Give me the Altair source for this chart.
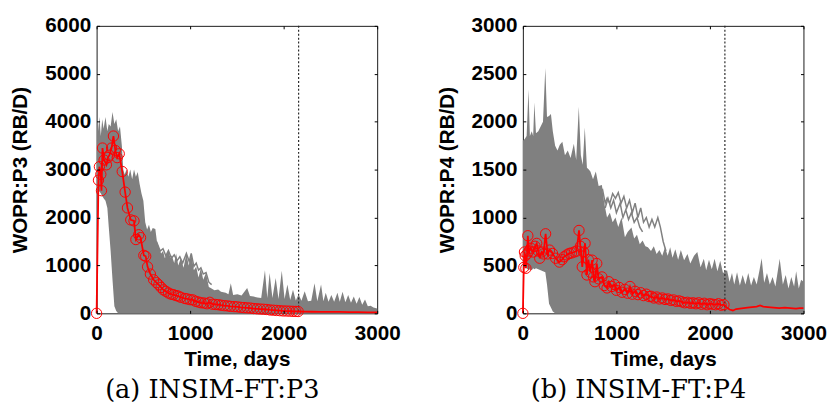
import altair as alt
import pandas as pd

# ---------------- shared ----------------
X_TICKS = [0, 1000, 2000, 3000]
HIST_END = 2160
GRAY = "#808080"
RED = "#ff0000"

# ---------------- panel (a) P3 ----------------
A_Y_TICKS = [0, 1000, 2000, 3000, 4000, 5000, 6000]
# envelope of the ensemble (gray band)
a_env_t = [0, 5, 15, 30, 45, 60, 75, 95, 115, 130, 150, 170, 190, 210, 230, 250, 270, 285, 300, 320,
           340, 360, 380, 400, 420, 440, 460, 480, 500, 520, 540, 560, 580, 600, 628, 645, 665, 690, 710, 730,
           768, 790, 803, 830, 850, 873, 900, 930, 960, 985, 1012, 1040, 1065, 1090, 1115, 1140, 1170, 1200, 1220, 1260,
           1300, 1330, 1380, 1410, 1435, 1460, 1505, 1550, 1580, 1610, 1640, 1680, 1720, 1760, 1800, 1825, 1850, 1880, 1915, 1945,
           1980, 2010, 2040, 2070, 2100, 2130, 2160, 2190, 2225, 2260, 2295, 2330, 2360, 2400, 2425, 2450, 2480, 2510, 2540, 2575,
           2600, 2630, 2660, 2690, 2720, 2750, 2780, 2810, 2840, 2870, 2900, 2930, 2960, 3000]
a_env_hi = [0, 4000, 3800, 4100, 3700, 4050, 3850, 4100, 3800, 3950, 3900, 4200, 3950, 4050, 3800, 3900, 3500, 3000, 2900, 3000,
            2850, 3000, 2800, 3000, 2850, 2950, 2700, 2500, 2350, 1900, 1750, 1850, 1700, 1780, 1760, 1500, 1380, 1250, 1300, 1150,
            1310, 1150, 1210, 1050, 1250, 1000, 1150, 950, 1250, 1000, 1250, 900, 970, 750, 940, 700, 840, 550, 530, 480,
            500, 450, 430, 400, 630, 380, 400, 370, 450, 530, 360, 350, 330, 320, 900, 320, 840, 320, 740, 300,
            890, 300, 600, 280, 490, 270, 400, 260, 460, 250, 260, 630, 250, 600, 250, 430, 240, 380, 240, 430,
            240, 450, 230, 380, 220, 350, 200, 340, 180, 290, 150, 160, 120, 100]
a_env_lo = [0, 2500, 2500, 2550, 2500, 2450, 2400, 2350, 2200, 1800, 1300, 700, 150, 50, 0, 0, 0, 0, 0, 0,
            0, 0, 0, 0, 0, 0, 0, 0, 0, 0, 0, 0, 0, 0, 0, 0, 0, 0, 0, 0,
            0, 0, 0, 0, 0, 0, 0, 0, 0, 0, 0, 0, 0, 0, 0, 0, 0, 0, 0, 0,
            0, 0, 0, 0, 0, 0, 0, 0, 0, 0, 0, 0, 0, 0, 0, 0, 0, 0, 0, 0,
            0, 0, 0, 0, 0, 0, 0, 0, 0, 0, 0, 0, 0, 0, 0, 0, 0, 0, 0, 0,
            0, 0, 0, 0, 0, 0, 0, 0, 0, 0, 0, 0, 0, 0]
# a few stand-out ensemble members
a_out1_t = [640, 680, 710, 740, 768, 800, 830, 860, 890, 920, 960, 990, 1012, 1040, 1065, 1090, 1115, 1140, 1170, 1200, 1230]
a_out1_v = [1500, 1300, 1350, 1200, 1310, 1150, 1220, 1100, 1180, 1050, 1250, 1080, 1250, 980, 1050, 900, 950, 820, 850, 650, 600]
# observed history (circles) and continuation
a_obs_t = [0, 20, 30, 45, 52, 63, 80, 105, 120, 137, 160, 180, 200, 220, 242, 274, 305, 330, 365, 400,
           420, 450, 470, 505, 525, 545, 575, 610, 640, 665, 690, 715, 740, 768, 795, 821, 850, 873, 900, 944,
           970, 1000, 1030, 1060, 1090, 1118, 1150, 1180, 1210, 1240, 1270, 1300, 1330, 1365, 1400, 1430, 1470, 1505, 1540, 1575,
           1610, 1645, 1680, 1715, 1750, 1786, 1820, 1855, 1891, 1925, 1960, 1995, 2030, 2065, 2100, 2130, 2155]
a_obs_v = [0, 2780, 3060, 2900, 2560, 3450, 3200, 3100, 3250, 3300, 3450, 3700, 3400, 3250, 3330, 2960, 2530, 2200, 1950, 1930,
           1540, 1640, 1580, 1210, 1190, 970, 820, 700, 640, 595, 540, 490, 460, 425, 400, 390, 370, 360, 335, 310,
           300, 285, 280, 250, 235, 220, 215, 200, 230, 190, 185, 180, 170, 160, 155, 145, 140, 135, 125, 120,
           115, 110, 100, 95, 90, 85, 80, 70, 65, 60, 55, 50, 48, 45, 42, 40, 38]
a_pred_t = [2200, 2300, 2400, 2500, 2600, 2700, 2800, 2900, 3000]
a_pred_v = [35, 33, 32, 30, 28, 26, 25, 22, 20]

# ---------------- panel (b) P4 ----------------
B_Y_TICKS = [0, 500, 1000, 1500, 2000, 2500, 3000]
b_env_t = [0, 20, 40, 60, 75, 95, 110, 123, 140, 165, 190, 215, 240, 258, 280, 300, 320, 345, 370, 395,
           422, 450, 480, 510, 545, 570, 598, 620, 640, 662, 685, 705, 722, 750, 780, 810, 845, 870, 900, 930,
           960, 990, 1020, 1055, 1091, 1120, 1161, 1190, 1220, 1250, 1280, 1310, 1337, 1370, 1400, 1430, 1460, 1490, 1520, 1548,
           1575, 1600, 1630, 1660, 1689, 1724, 1760, 1790, 1830, 1865, 1900, 1935, 1960, 1990, 2020, 2050, 2080, 2110, 2140, 2183,
           2210, 2236, 2260, 2290, 2320, 2350, 2380, 2410, 2440, 2470, 2500, 2530, 2553, 2580, 2610, 2640, 2670, 2700, 2746, 2780,
           2810, 2840, 2870, 2900, 2922, 2950, 2975, 3000]
b_env_hi = [1800, 1820, 1850, 2336, 1850, 1900, 1850, 2200, 1880, 1900, 1950, 2000, 2560, 2050, 2060, 2080, 1900, 1750, 1700, 1760,
            1790, 1650, 1700, 1620, 1770, 1600, 2155, 1650, 1550, 1940, 1520, 1500, 1480, 1400, 1480, 1330, 1340, 1150, 1000, 1050,
            950, 1000, 900, 1000, 795, 850, 897, 780, 820, 720, 760, 700, 690, 650, 700, 620, 660, 600, 690, 600,
            690, 580, 670, 560, 660, 555, 620, 520, 600, 640, 480, 570, 450, 560, 460, 570, 440, 550, 420, 450,
            330, 420, 300, 430, 290, 400, 300, 420, 290, 380, 300, 450, 575, 320, 420, 300, 380, 280, 570, 300,
            400, 260, 380, 280, 440, 260, 350, 330]
b_env_lo = [450, 480, 470, 450, 460, 450, 470, 460, 470, 460, 450, 440, 430, 300, 100, 60, 20, 0, 0, 0,
            0, 0, 0, 0, 0, 0, 0, 0, 0, 0, 0, 0, 0, 0, 0, 0, 0, 0, 0, 0,
            0, 0, 0, 0, 0, 0, 0, 0, 0, 0, 0, 0, 0, 0, 0, 0, 0, 0, 0, 0,
            0, 0, 0, 0, 0, 0, 0, 0, 0, 0, 0, 0, 0, 0, 0, 0, 0, 0, 0, 0,
            0, 0, 0, 0, 0, 0, 0, 0, 0, 0, 0, 0, 0, 0, 0, 0, 0, 0, 0, 0,
            0, 0, 0, 0, 0, 0, 0, 0]
b_out1_t = [850, 880, 900, 930, 960, 990, 1020, 1050, 1080, 1110, 1140, 1170, 1200, 1230, 1260, 1290, 1320, 1350, 1380, 1410,
            1443, 1470, 1500, 1530]
b_out1_v = [1300, 1150, 1200, 1150, 1250, 1200, 1260, 1150, 1220, 1100, 1180, 1050, 1150, 1000, 1100, 950, 1000, 900, 980, 900,
            1000, 900, 750, 650]
b_out2_t = [880, 910, 940, 970, 1000, 1040, 1070, 1100, 1130, 1160, 1190, 1220, 1250, 1280]
b_out2_v = [1100, 1200, 1100, 1180, 1050, 1150, 1000, 1080, 980, 1050, 950, 1000, 900, 850]
b_obs_t = [0, 10, 17, 25, 32, 45, 53, 65, 85, 110, 130, 148, 165, 180, 200, 220, 243, 265, 285, 317,
           350, 390, 420, 440, 470, 495, 520, 550, 575, 600, 615, 635, 650, 665, 685, 700, 720, 740, 755, 770,
           790, 810, 845, 870, 900, 920, 950, 980, 1000, 1030, 1060, 1090, 1120, 1145, 1170, 1200, 1230, 1260, 1290, 1320,
           1350, 1372, 1400, 1430, 1460, 1490, 1520, 1550, 1580, 1610, 1640, 1670, 1700, 1730, 1760, 1790, 1820, 1850, 1880, 1910,
           1940, 1970, 2000, 2030, 2060, 2090, 2120, 2150]
b_obs_v = [0, 480, 640, 600, 470, 620, 810, 650, 680, 640, 700, 730, 650, 575, 640, 620, 830, 620, 660, 625,
           575, 535, 560, 590, 610, 625, 630, 640, 650, 865, 700, 485, 640, 730, 400, 560, 430, 555, 380, 330,
           520, 360, 380, 290, 265, 330, 280, 300, 240, 270, 220, 250, 210, 280, 200, 230, 195, 215, 185, 200,
           175, 178, 160, 170, 150, 160, 145, 150, 135, 140, 125, 130, 120, 110, 115, 105, 110, 100, 110, 95,
           105, 90, 100, 95, 90, 100, 85, 90]
b_pred_t = [2180, 2210, 2246, 2280, 2320, 2360, 2400, 2450, 2500, 2536, 2570, 2620, 2680, 2740, 2800, 2860, 2920, 2960, 3000]
b_pred_v = [60, 40, 30, 45, 50, 55, 60, 65, 70, 82, 70, 65, 60, 55, 60, 55, 50, 55, 55]

SANS = "Liberation Sans"
SERIF = "DejaVu Serif"


def panel(env_t, env_hi, env_lo, outliers, obs_t, obs_v, pred_t, pred_v,
          ymax, yticks, ytitle, caption):
    xs = alt.Scale(domain=[0, 3000], nice=False, zero=False)
    ys = alt.Scale(domain=[0, ymax], nice=False)

    env = pd.DataFrame({"t": env_t, "hi": env_hi, "lo": env_lo})
    rows = []
    for k, (ot, ov) in enumerate(outliers):
        for t, v in zip(ot, ov):
            rows.append({"id": k, "t": t, "v": v})
    out_df = pd.DataFrame(rows)
    red_df = pd.DataFrame({"t": list(obs_t) + list(pred_t), "v": list(obs_v) + list(pred_v)})
    obs_df = pd.DataFrame({"t": obs_t, "v": obs_v})
    rule_df = pd.DataFrame({"t": [HIST_END]})

    lab = dict(labelFont=SANS, labelFontSize=21, labelFontWeight="bold", labelColor="#000000",
               titleFont=SANS, titleFontSize=21, titleFontWeight="bold", titleColor="#000000")
    main_x = alt.Axis(values=X_TICKS, format="d", ticks=False, domain=False, grid=False,
                      labelPadding=10, titlePadding=5, labelFlush=False, **lab)
    main_y = alt.Axis(values=yticks, format="d", ticks=False, domain=False, grid=False,
                      labelPadding=6, titlePadding=14, labelFlush=False, **lab)

    def tick_axis(orient, vals):
        return alt.Axis(orient=orient, values=vals, labels=False, domain=False, grid=False,
                        ticks=True, tickSize=3, offset=-3, tickColor="#000000", zindex=1)

    area = alt.Chart(env).mark_area(color=GRAY, opacity=1, interpolate="linear").encode(
        x=alt.X("t:Q", scale=xs, axis=main_x, title="Time, days"),
        y=alt.Y("hi:Q", scale=ys, axis=main_y, title=ytitle),
        y2="lo:Q",
    )
    outl = alt.Chart(out_df).mark_line(color=GRAY, strokeWidth=1.5).encode(
        x=alt.X("t:Q", scale=xs, axis=tick_axis("top", X_TICKS), title=None),
        y=alt.Y("v:Q", scale=ys, axis=tick_axis("right", yticks), title=None),
        detail="id:N",
    )
    rule = alt.Chart(rule_df).mark_rule(color="#2a2a2a", strokeDash=[2, 2], strokeWidth=1.2).encode(
        x=alt.X("t:Q", scale=xs, axis=None),
    )
    red_line = alt.Chart(red_df).mark_line(color=RED, strokeWidth=1.8).encode(
        x=alt.X("t:Q", scale=xs, axis=tick_axis("bottom", X_TICKS), title=None),
        y=alt.Y("v:Q", scale=ys, axis=tick_axis("left", yticks), title=None),
    )
    red_pts = alt.Chart(obs_df).mark_point(shape="circle", filled=False, color=RED, size=110,
                                           strokeWidth=1, opacity=1).encode(
        x=alt.X("t:Q", scale=xs, axis=None),
        y=alt.Y("v:Q", scale=ys, axis=None),
    )
    return alt.layer(area, outl, rule, red_line, red_pts).resolve_axis(
        x="independent", y="independent"
    ).properties(
        width=285, height=292,
        title=alt.TitleParams(caption, orient="bottom", anchor="middle", font=SERIF,
                              fontSize=26, fontWeight="normal", color="#000000", offset=8, dx=-25),
    )


pa = panel(a_env_t, a_env_hi, a_env_lo, [(a_out1_t, a_out1_v)], a_obs_t, a_obs_v, a_pred_t, a_pred_v,
           6000, A_Y_TICKS, "WOPR:P3 (RB/D)", "(a) INSIM-FT:P3")
pb = panel(b_env_t, b_env_hi, b_env_lo, [(b_out1_t, b_out1_v), (b_out2_t, b_out2_v)], b_obs_t, b_obs_v,
           b_pred_t, b_pred_v, 3000, B_Y_TICKS, "WOPR:P4 (RB/D)", "(b) INSIM-FT:P4")

chart = alt.hconcat(pa, pb, spacing=148, bounds="flush").properties(
    padding={"left": 1, "top": 3, "right": 5, "bottom": 0},
    background="white",
).configure_view(
    stroke="#1a1a1a", strokeWidth=1
)

chart.save("out.html", embed_options={"renderer": "svg", "actions": False})
